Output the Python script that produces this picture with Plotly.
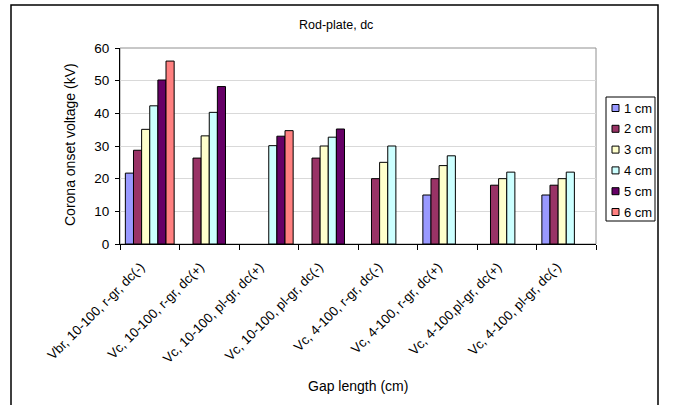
import plotly.graph_objects as go

categories = [
    "Vbr, 10-100, r-gr, dc(-)",
    "Vc, 10-100, r-gr, dc(+)",
    "Vc, 10-100, pl-gr, dc(+)",
    "Vc, 10-100, pl-gr, dc(-)",
    "Vc, 4-100, r-gr, dc(-)",
    "Vc, 4-100, r-gr, dc(+)",
    "Vc, 4-100,pl-gr, dc(+)",
    "Vc, 4-100, pl-gr, dc(-)",
]
series_names = ["1 cm", "2 cm", "3 cm", "4 cm", "5 cm", "6 cm"]
s1 = [21.7, None, None, None, None, 15, None, 15]
s2 = [28.7, 26.3, None, 26.3, 20, 20, 18, 18]
s3 = [35.1, 33.1, None, 30, 25, 24, 20, 20]
s4 = [42.3, 40.3, 30.1, 32.7, 30, 27, 22, 22]
s5 = [50.2, 48.2, 33.0, 35.2, None, None, None, None]
s6 = [56.0, None, 34.7, None, None, None, None, None]
series_values = [s1, s2, s3, s4, s5, s6]
colors = ["#9999FF", "#993366", "#FFFFCC", "#CCFFFF", "#660066", "#FF8080"]

fig = go.Figure()
for name, vals, col in zip(series_names, series_values, colors):
    fig.add_trace(go.Bar(
        x=categories, y=vals, name=name,
        marker=dict(color=col, line=dict(color="black", width=1)),
    ))

W, H = 673, 405
L, R, T, B = 120, 77, 48, 161
pw, ph = W - L - R, H - T - B

def px(x):
    return (x - L) / pw

def py(y):
    return (H - B - y) / ph

font = "Liberation Sans, Arial, sans-serif"

shapes = [
    dict(type="rect", xref="paper", yref="paper", x0=0, x1=1, y0=0, y1=1,
         line=dict(color="#909090", width=1), layer="below"),
    dict(type="rect", xref="paper", yref="paper",
         x0=px(11), x1=px(658), y0=py(420), y1=py(5),
         line=dict(color="black", width=1.5)),
    # legend box
    dict(type="rect", xref="paper", yref="paper",
         x0=px(606), x1=px(655), y0=py(221), y1=py(97),
         line=dict(color="black", width=1), fillcolor="white"),
]
annotations = [
    dict(text="Rod-plate, dc", xref="paper", yref="paper", x=px(336), y=py(25),
         showarrow=False, font=dict(size=12.5), xanchor="center", yanchor="middle"),
    dict(text="Corona onset voltage (kV)", xref="paper", yref="paper",
         x=px(70), y=py(145), textangle=-90, showarrow=False,
         font=dict(size=14), xanchor="center", yanchor="middle"),
    dict(text="Gap length (cm)", xref="paper", yref="paper", x=px(358), y=py(386),
         showarrow=False, font=dict(size=14), xanchor="center", yanchor="middle"),
]

# legend entries
for i, (name, col) in enumerate(zip(series_names, colors)):
    yc = 108 + i * 20.8
    shapes.append(dict(type="rect", xref="paper", yref="paper",
                       x0=px(612), x1=px(619), y0=py(yc + 3.5), y1=py(yc - 3.5),
                       fillcolor=col, line=dict(color="black", width=1)))
    annotations.append(dict(text=name, xref="paper", yref="paper",
                            x=px(622), y=py(yc), showarrow=False,
                            font=dict(size=13), xanchor="left", yanchor="middle"))

fig.update_layout(
    width=W, height=H,
    margin=dict(l=L, r=R, t=T, b=B, pad=0, autoexpand=False),
    paper_bgcolor="white", plot_bgcolor="white",
    font=dict(family=font, size=12, color="black"),
    barmode="group", bargap=0.18, bargroupgap=0,
    showlegend=False,
    xaxis=dict(
        type="category", tickangle=-45, tickfont=dict(size=13.3),
        showline=True, linecolor="black", linewidth=1,
        ticks="outside", ticklen=5, tickcolor="black", tickson="boundaries",
        ticklabelstandoff=9, ticklabelshift=-9,
        showgrid=False, automargin=False,
    ),
    yaxis=dict(
        range=[0, 60], dtick=10, tickfont=dict(size=13.5),
        showline=True, linecolor="black", linewidth=1,
        ticks="outside", ticklen=4, tickcolor="black",
        ticklabelstandoff=3,
        showgrid=True, gridcolor="#d9d9d9", gridwidth=1,
        zeroline=False, automargin=False,
    ),
    shapes=shapes,
    annotations=annotations,
)

fig.write_html(
    "out.html",
    config={"displayModeBar": False},
    post_script="document.body.style.margin='0';document.body.style.overflow='hidden';",
)
